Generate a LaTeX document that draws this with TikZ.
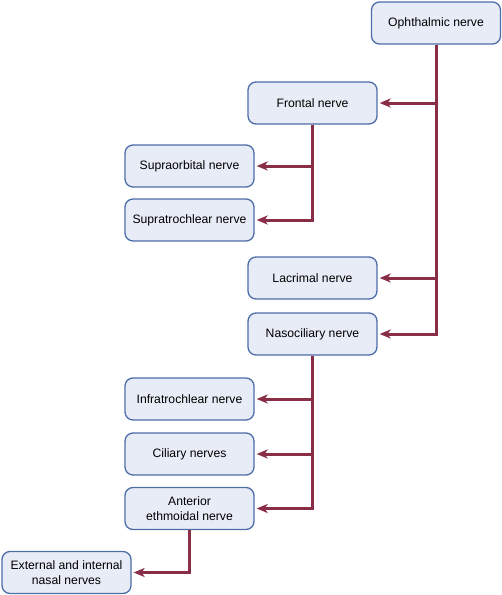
\documentclass[tikz,border=0pt]{standalone}
\usepackage{fontspec}
\setmainfont{Liberation Sans}
\usetikzlibrary{arrows.meta}
\definecolor{boxfill}{HTML}{E8ECF7}
\definecolor{boxline}{HTML}{4D6DA8}
\definecolor{nervered}{HTML}{8A2E48}
\begin{document}
\begin{tikzpicture}[x=1pt,y=-1pt,>={Stealth[length=11pt,width=9pt,inset=3pt]},shorten >=2pt,
  branch/.style={->,draw=nervered,line width=3pt},
  main node/.style={rectangle,rounded corners=8pt,fill=boxfill,draw=boxline,line width=1.3pt,
    minimum width=129pt,minimum height=42pt,align=center,font=\fontsize{12.2}{14.5}\selectfont}]

  \useasboundingbox (0,0) rectangle (502,595);

  \node[main node] (1) at (436,23) {Ophthalmic nerve};
  \node[main node] (2) at (312.5,103) {Frontal nerve};
  \node[main node] (3) at (189.5,166) {Supraorbital nerve};
  \node[main node] (4) at (189.5,220) {Supratrochlear nerve};
  \node[main node] (5) at (312.5,278) {Lacrimal nerve};
  \node[main node] (6) at (312.5,334) {Nasociliary nerve};
  \node[main node] (7) at (189.5,399) {Infratrochlear nerve};
  \node[main node] (8) at (189.5,454) {Ciliary nerves};
  \node[main node] (9) at (189.5,508.5) {Anterior\\ethmoidal nerve};
  \node[main node] (10) at (66.5,572.5) {External and internal\\nasal nerves};
\draw [branch] (1) |- (2);
\draw [branch] (1) |- (5);
\draw [branch] (1) |- (6);
\draw [branch] (2) |- (3);
\draw [branch] (2) |- (4);
\draw [branch] (6) |- (7);
\draw [branch] (6) |- (8);
\draw [branch] (6) |- (9);
\draw [branch] (9) |- (10);
\end{tikzpicture}
\end{document}
